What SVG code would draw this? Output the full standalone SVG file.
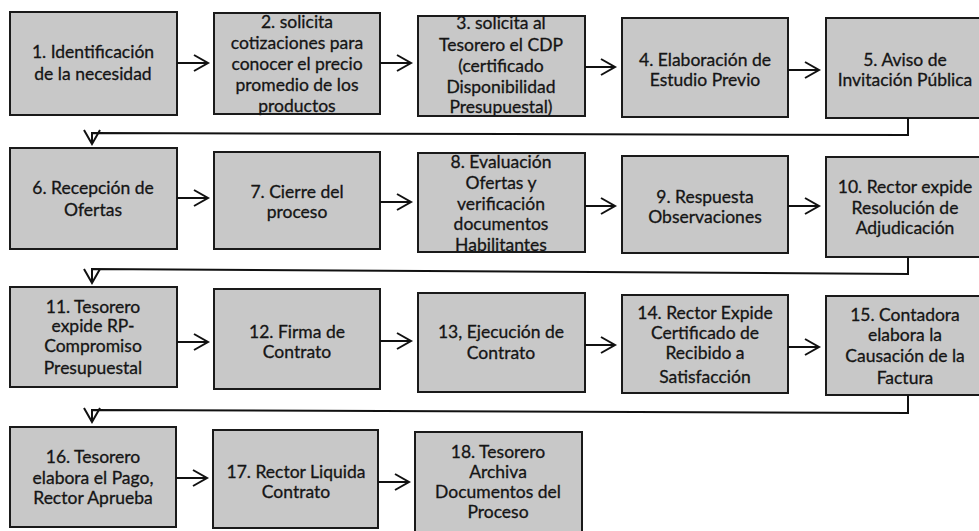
<svg xmlns="http://www.w3.org/2000/svg" width="979" height="531" viewBox="0 0 979 531">
<defs>
<style>
.box{fill:#c8c8c8;stroke:#1a1a1a;stroke-width:2}
.t{font-family:Lato,"Noto Sans",sans-serif;font-size:17.5px;fill:#151515;stroke:#151515;stroke-width:0.3;text-anchor:middle}
.c{fill:none;stroke:#111;stroke-width:2}
</style>
<marker id="ah" markerUnits="userSpaceOnUse" markerWidth="18" markerHeight="20" viewBox="0 0 18 20" refX="15" refY="9" orient="auto">
<path d="M1,1 L15,9 L1,17" fill="none" stroke="#111" stroke-width="2"/>
</marker>
</defs>
<rect width="979" height="531" fill="#ffffff"/>

<g id="n1"><rect class="box" x="10" y="12" width="167" height="103"/>
<text class="t" x="93" y="58">1. Identificación</text><text class="t" x="93" y="80">de la necesidad</text></g>
<g id="n2"><rect class="box" x="214" y="13" width="166" height="101"/>
<text class="t" x="297" y="28">2. solicita</text><text class="t" x="297" y="49">cotizaciones para</text><text class="t" x="297" y="70">conocer el precio</text><text class="t" x="297" y="91">promedio de los</text><text class="t" x="297" y="112">productos</text></g>
<g id="n3"><rect class="box" x="418" y="16" width="167" height="100"/>
<text class="t" x="501" y="29">3. solicita al</text><text class="t" x="501" y="51">Tesorero el CDP</text><text class="t" x="501" y="72">(certificado</text><text class="t" x="501" y="93">Disponibilidad</text><text class="t" x="501" y="113">Presupuestal)</text></g>
<g id="n4"><rect class="box" x="622" y="18" width="166" height="99"/>
<text class="t" x="705" y="66">4. Elaboración de</text><text class="t" x="705" y="86">Estudio Previo</text></g>
<g id="n5"><rect class="box" x="826" y="18" width="166" height="100"/>
<text class="t" x="905" y="66">5. Aviso de</text><text class="t" x="905" y="86">Invitación Pública</text></g>

<g id="n6"><rect class="box" x="10" y="148" width="167" height="101"/>
<text class="t" x="93" y="194">6. Recepción de</text><text class="t" x="93" y="216">Ofertas</text></g>
<g id="n7"><rect class="box" x="214" y="152" width="166" height="97"/>
<text class="t" x="297" y="198">7. Cierre del</text><text class="t" x="297" y="218">proceso</text></g>
<g id="n8"><rect class="box" x="418" y="153" width="167" height="99"/>
<text class="t" x="501" y="168">8. Evaluación</text><text class="t" x="501" y="189">Ofertas y</text><text class="t" x="501" y="210">verificación</text><text class="t" x="501" y="230">documentos</text><text class="t" x="501" y="251">Habilitantes</text></g>
<g id="n9"><rect class="box" x="622" y="156" width="166" height="97"/>
<text class="t" x="705" y="203">9. Respuesta</text><text class="t" x="705" y="223">Observaciones</text></g>
<g id="n10"><rect class="box" x="826" y="157" width="166" height="100"/>
<text class="t" x="905" y="193">10. Rector expide</text><text class="t" x="905" y="214">Resolución de</text><text class="t" x="905" y="234">Adjudicación</text></g>

<g id="n11"><rect class="box" x="10" y="287" width="167" height="100"/>
<text class="t" x="93" y="313">11. Tesorero</text><text class="t" x="93" y="332">expide RP-</text><text class="t" x="93" y="352">Compromiso</text><text class="t" x="93" y="374">Presupuestal</text></g>
<g id="n12"><rect class="box" x="214" y="289" width="166" height="100"/>
<text class="t" x="297" y="338">12. Firma de</text><text class="t" x="297" y="358">Contrato</text></g>
<g id="n13"><rect class="box" x="418" y="293" width="167" height="99"/>
<text class="t" x="501" y="338">13, Ejecución de</text><text class="t" x="501" y="359">Contrato</text></g>
<g id="n14"><rect class="box" x="622" y="295" width="166" height="98"/>
<text class="t" x="705" y="319">14. Rector Expide</text><text class="t" x="705" y="339">Certificado de</text><text class="t" x="705" y="359">Recibido a</text><text class="t" x="705" y="383">Satisfacción</text></g>
<g id="n15"><rect class="box" x="826" y="296" width="166" height="99"/>
<text class="t" x="905" y="321">15. Contadora</text><text class="t" x="905" y="341">elabora la</text><text class="t" x="905" y="362">Causación de la</text><text class="t" x="905" y="384">Factura</text></g>

<g id="n16"><rect class="box" x="10" y="427" width="166" height="100"/>
<text class="t" x="93" y="463">16. Tesorero</text><text class="t" x="93" y="484">elabora el Pago,</text><text class="t" x="93" y="504">Rector Aprueba</text></g>
<g id="n17"><rect class="box" x="213" y="430" width="165" height="98"/>
<text class="t" x="296" y="478">17. Rector Liquida</text><text class="t" x="296" y="498">Contrato</text></g>
<g id="n18"><rect class="box" x="415" y="432" width="167" height="104"/>
<text class="t" x="498" y="458">18. Tesorero</text><text class="t" x="498" y="478">Archiva</text><text class="t" x="498" y="498">Documentos del</text><text class="t" x="498" y="518">Proceso</text></g>

<g id="connectors">
<line class="c" x1="177" y1="63" x2="208" y2="63" marker-end="url(#ah)"/>
<line class="c" x1="380" y1="63" x2="411" y2="63" marker-end="url(#ah)"/>
<line class="c" x1="585" y1="67" x2="615" y2="67" marker-end="url(#ah)"/>
<line class="c" x1="788" y1="70" x2="819" y2="70" marker-end="url(#ah)"/>
<polyline class="c" points="908,118 908,135 92,133 92,144" marker-end="url(#ah)"/>

<line class="c" x1="177" y1="198" x2="208" y2="198" marker-end="url(#ah)"/>
<line class="c" x1="380" y1="202" x2="411" y2="202" marker-end="url(#ah)"/>
<line class="c" x1="585" y1="206" x2="615" y2="206" marker-end="url(#ah)"/>
<line class="c" x1="788" y1="206" x2="819" y2="206" marker-end="url(#ah)"/>
<polyline class="c" points="908,257 908,274 92,269 92,283" marker-end="url(#ah)"/>

<line class="c" x1="177" y1="342" x2="208" y2="342" marker-end="url(#ah)"/>
<line class="c" x1="380" y1="341" x2="411" y2="341" marker-end="url(#ah)"/>
<line class="c" x1="585" y1="345" x2="615" y2="345" marker-end="url(#ah)"/>
<line class="c" x1="788" y1="347" x2="819" y2="347" marker-end="url(#ah)"/>
<polyline class="c" points="908,395 908,413 92,410 92,422" marker-end="url(#ah)"/>

<line class="c" x1="176" y1="478" x2="207" y2="478" marker-end="url(#ah)"/>
<line class="c" x1="378" y1="482" x2="409" y2="482" marker-end="url(#ah)"/>
</g>
</svg>
